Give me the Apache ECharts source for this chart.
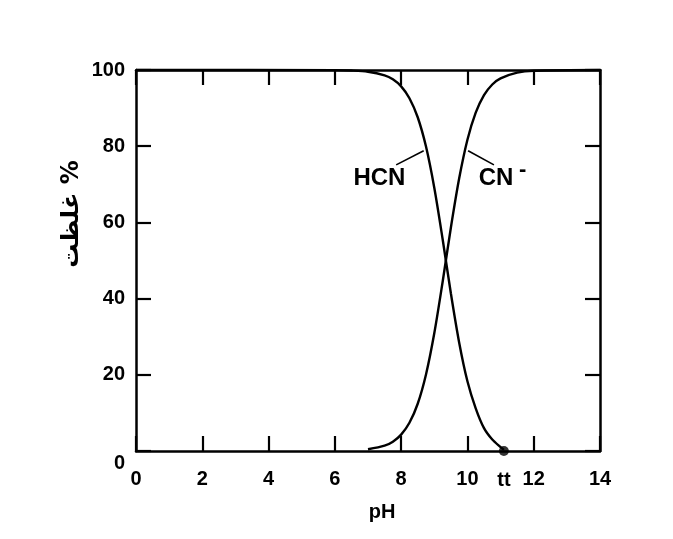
<!DOCTYPE html>
<html><head><meta charset="utf-8">
<script src="https://cdn.jsdelivr.net/npm/echarts@6/dist/echarts.min.js"></script>
<style>html,body{margin:0;padding:0;background:#fff}#c{width:673px;height:539px}</style>
</head><body><div id="c"></div>
<script>
const xTicks = [0, 2, 4, 6, 8, 10, 12, 14];
const yTicks = [0, 20, 40, 60, 80, 100];
const hcnPH  = [0, 6, 6.5, 7, 7.5, 7.75, 8, 8.25, 8.5, 8.75, 9, 9.25, 9.5, 9.75, 10, 10.25, 10.5, 10.75, 11, 11.1];
const hcnPct = [100, 99.96, 99.86, 99.55, 98.6, 97.55, 95.7, 92.6, 87.6, 79.9, 69.1, 55.7, 41.4, 28.5, 18.3, 11.2, 6, 3, 1, 0.3];
const cnPH   = [7, 7.5, 7.75, 8, 8.25, 8.5, 8.75, 9, 9.25, 9.5, 9.75, 10, 10.25, 10.5, 10.75, 11, 11.5, 12, 14];
const cnPct  = [0.45, 1.4, 2.45, 4.3, 7.4, 12.4, 20.1, 30.9, 44.3, 58.6, 71.5, 81.7, 88.8, 93.4, 96.2, 97.8, 99.3, 99.8, 100];
const hcnLeader = [[7.85, 75.1], [8.68, 78.8]];
const cnLeader  = [[10.02, 78.8], [10.8, 75.1]];
const labels = [
  {text: 'HCN', pH: 7.36, pct: 71.4, size: 24},
  {text: 'CN',  pH: 10.88, pct: 71.4, size: 24},
  {text: '-',   pH: 11.68, pct: 73.6, size: 22}
];
const marker = {pH: 11.1, pct: 0, text: 'tt'};

const font = 'Liberation Sans, Arial, sans-serif';
const ink = '#000';
const chart = echarts.init(document.getElementById('c'));
function axisCommon() {
  return {
    axisLine: {show: true, onZero: false, lineStyle: {color: ink, width: 2.5}},
    axisTick: {show: true, inside: true, length: 15, lineStyle: {color: ink, width: 2.2}},
    splitLine: {show: false}
  };
}
chart.setOption({
  backgroundColor: '#fff',
  animation: false,
  grid: {left: 136, right: 73, top: 70, bottom: 88},
  xAxis: [
    Object.assign({type: 'value', min: xTicks[0], max: xTicks[xTicks.length-1], interval: 2, position: 'bottom',
      axisLabel: {color: ink, fontSize: 20, fontWeight: 'bold', fontFamily: font, margin: 18}}, axisCommon()),
    Object.assign({type: 'value', min: xTicks[0], max: xTicks[xTicks.length-1], interval: 2, position: 'top',
      axisLabel: {show: false}}, axisCommon())
  ],
  yAxis: [
    Object.assign({type: 'value', min: yTicks[0], max: yTicks[yTicks.length-1], interval: 20, position: 'left',
      axisLabel: {color: ink, fontSize: 20, fontWeight: 'bold', fontFamily: font, margin: 11,
        formatter: v => v === 0 ? '{z|0}' : String(v),
        rich: {z: {fontSize: 20, fontWeight: 'bold', fontFamily: font, color: ink, padding: [24, 0, 0, 0]}}}}, axisCommon()),
    Object.assign({type: 'value', min: yTicks[0], max: yTicks[yTicks.length-1], interval: 20, position: 'right',
      axisLabel: {show: false}}, axisCommon())
  ],
  graphic: [
    {type: 'text', x: 382, y: 512, style: {text: 'pH', font: 'bold 20px ' + font, fill: ink, align: 'center', verticalAlign: 'middle'}},
    {type: 'text', x: 72, y: 214, rotation: Math.PI / 2,
      style: {text: 'غلظت %', font: 'bold 24px DejaVu Sans, sans-serif', fill: ink, align: 'center', verticalAlign: 'middle'}}
  ],
  series: [
    {type: 'line', name: 'HCN', data: hcnPH.map((x, i) => [x, hcnPct[i]]), smooth: 0.3,
      showSymbol: false, symbol: 'none', lineStyle: {color: ink, width: 2.4}, clip: false},
    {type: 'line', name: 'CN', data: cnPH.map((x, i) => [x, cnPct[i]]), smooth: 0.3,
      showSymbol: false, symbol: 'none', lineStyle: {color: ink, width: 2.4}, clip: false},
    {type: 'line', data: hcnLeader, symbol: 'none', lineStyle: {color: ink, width: 1.6}},
    {type: 'line', data: cnLeader, symbol: 'none', lineStyle: {color: ink, width: 1.6}},
    {type: 'scatter', data: labels.map(l => ({value: [l.pH, l.pct],
        label: {formatter: l.text, fontSize: l.size, color: ink, opacity: 1}})),
      symbolSize: 1, itemStyle: {color: 'rgba(0,0,0,0)'}, clip: false, z: 6,
      label: {show: true, position: [0, 0], align: 'center', verticalAlign: 'middle', color: ink, opacity: 1,
        textBorderWidth: 0, fontWeight: 'bold', fontFamily: font}},
    {type: 'scatter', data: [[marker.pH, marker.pct]], symbolSize: 10, itemStyle: {color: ink}, clip: false, z: 5,
      label: {show: true, position: 'bottom', distance: 14, formatter: marker.text, color: ink, opacity: 1,
        fontSize: 20, fontWeight: 'bold', fontFamily: font}}
  ]
});
</script></body></html>
